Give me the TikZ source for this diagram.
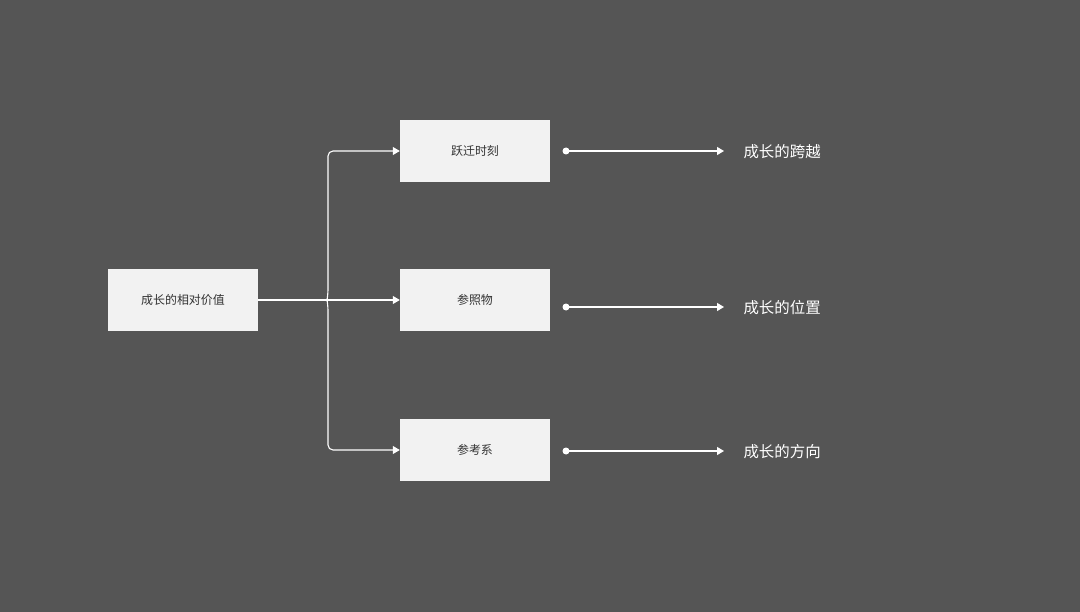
\documentclass[tikz,border=0pt]{standalone}
\usepackage{fontspec}
\newfontfamily\cjk{Noto Sans CJK SC}
\usetikzlibrary{arrows.meta}
\definecolor{bgcol}{HTML}{555555}
\definecolor{boxcol}{HTML}{F2F2F2}
\tikzset{
  topic/.style={draw=none,fill=boxcol,minimum width=150bp,minimum height=62bp,font=\cjk\fontsize{12}{14}\selectfont,text=black!80},
  result/.style={anchor=west,text=white,font=\cjk\fontsize{15.5}{18}\selectfont},
  link/.style={draw=white,line width=1.1bp,-{Triangle[length=7bp,width=8bp]}},
}
\begin{document}
\begin{tikzpicture}[x=1bp,y=-1bp]
  \fill[bgcol] (0,0) rectangle (1080,612);
  \node (Value) at (183,300) [topic] {成长的相对价值};
  \node (Leap) at (475,151) [topic] {跃迁时刻};
  \node (Ref) at (475,300) [topic] {参照物};
  \node (Frame) at (475,450) [topic] {参考系};
  \coordinate (DotA) at (566,151);
  \coordinate (DotB) at (566,307);
  \coordinate (DotC) at (566,451);
  \node (Leap') at (740,152) [result] {成长的跨越};
  \node (Ref') at (740,308) [result] {成长的位置};
  \node (Frame') at (740,452) [result] {成长的方向};
  % brace
  \draw [draw=white,line width=1.1bp] (Value.east) -- (323,300);
  \draw [link,rounded corners=5bp] (323,300) .. controls (327,300) .. (328,294) -- (328,151) -- (Leap.west);
  \draw [link,rounded corners=5bp] (323,300) .. controls (327,300) .. (328,306) -- (328,450) -- (Frame.west);
  \draw [link] (323,300) -- (Ref.west);
  % results
  \foreach \d/\t in {DotA/Leap',DotB/Ref',DotC/Frame'} {
    \fill[white] (\d) circle (3.5bp);
    \draw [link] (\d) -- (\d -| 724,0);
  }
\end{tikzpicture}
\end{document}
